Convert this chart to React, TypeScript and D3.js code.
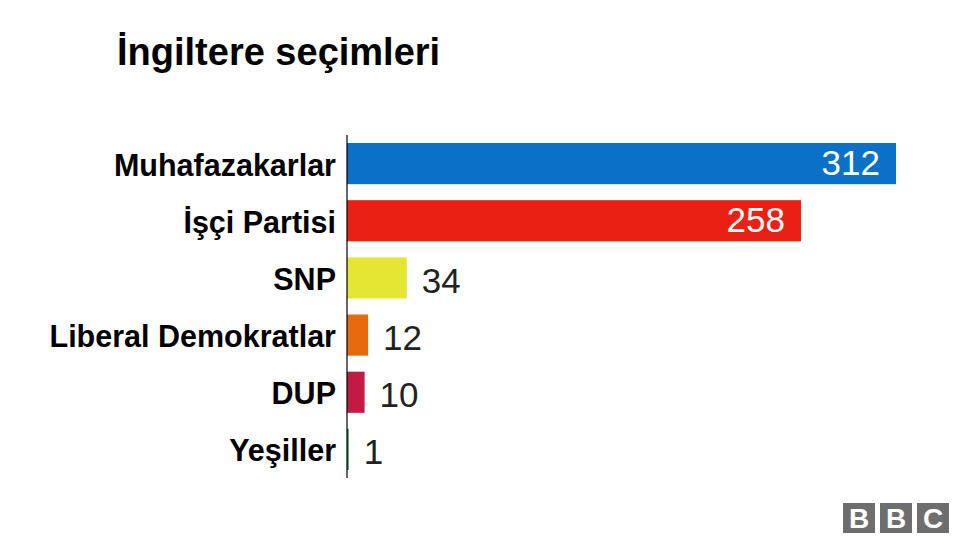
import React, { useEffect, useRef } from 'react';
import * as d3 from 'd3';

const parties = ['Muhafazakarlar', 'İşçi Partisi', 'SNP', 'Liberal Demokratlar', 'DUP', 'Yeşiller'];
const seats = [312, 258, 34, 12, 10, 1];
const colors = ['#0b71c8', '#ea2014', '#e4e634', '#e76b0c', '#c21a44', '#2f8a5c'];
const title = 'İngiltere seçimleri';

const FONT = '"Liberation Sans", Arial, Helvetica, sans-serif';

export default function App() {
  const ref = useRef<SVGSVGElement>(null);

  useEffect(() => {
    document.body.style.margin = '0';
    if (!ref.current) return;
    const svg = d3.select(ref.current);
    svg.selectAll('*').remove();

    const width = 976;
    const height = 549;

    svg.append('rect').attr('width', width).attr('height', height).attr('fill', '#fff');

    // Title
    svg.append('text')
      .attr('x', 117)
      .attr('y', 65)
      .attr('font-family', FONT)
      .attr('font-weight', 'bold')
      .attr('font-size', 38)
      .attr('fill', '#000')
      .text(title);

    const data = parties.map((p, i) => ({ party: p, seats: seats[i], color: colors[i] }));

    const x = d3.scaleLinear()
      .domain([0, d3.max(seats)!])
      .range([347, 896]);

    const y = d3.scaleBand()
      .domain(parties)
      .range([135, 478])
      .paddingInner(0.28)
      .paddingOuter(0.14);

    // Bars
    svg.selectAll('.bar')
      .data(data)
      .join('rect')
      .attr('class', 'bar')
      .attr('x', x(0))
      .attr('y', d => y(d.party)!)
      .attr('width', d => Math.max(1.5, x(d.seats) - x(0)))
      .attr('height', y.bandwidth())
      .attr('fill', d => d.color);

    // Axis line
    svg.append('line')
      .attr('x1', x(0)).attr('x2', x(0))
      .attr('y1', y.range()[0]).attr('y2', y.range()[1])
      .attr('stroke', '#000')
      .attr('stroke-width', 1.2);

    // Category labels
    svg.selectAll('.cat')
      .data(data)
      .join('text')
      .attr('class', 'cat')
      .attr('x', 336)
      .attr('y', d => y(d.party)! + y.bandwidth() / 2 + 12)
      .attr('text-anchor', 'end')
      .attr('font-family', FONT)
      .attr('font-weight', 'bold')
      .attr('font-size', 30.5)
      .attr('fill', '#000')
      .text(d => d.party);

    // Value labels: inside for the long bars, outside for the short ones
    const inside = (d: { seats: number }) => x(d.seats) - x(0) > 150;
    svg.selectAll('.val')
      .data(data)
      .join('text')
      .attr('class', 'val')
      .attr('x', d => inside(d) ? x(d.seats) - 16 : x(d.seats) + 15)
      .attr('y', d => y(d.party)! + y.bandwidth() / 2 + (inside(d) ? 11 : 15))
      .attr('text-anchor', d => inside(d) ? 'end' : 'start')
      .attr('font-family', FONT)
      .attr('font-size', 35)
      .attr('fill', d => inside(d) ? '#fff' : '#222')
      .text(d => d.seats);

    // BBC logo
    const logo = svg.append('g').attr('transform', 'translate(843,503)');
    ['B', 'B', 'C'].forEach((ch, i) => {
      logo.append('rect')
        .attr('x', i * 37)
        .attr('y', 0)
        .attr('width', 32)
        .attr('height', 30)
        .attr('fill', '#6e6e6e');
      logo.append('text')
        .attr('x', i * 37 + 16)
        .attr('y', 25)
        .attr('text-anchor', 'middle')
        .attr('font-family', FONT)
        .attr('font-weight', 'bold')
        .attr('font-size', 28)
        .attr('fill', '#fff')
        .text(ch);
    });
  }, []);

  return <svg ref={ref} width={976} height={549} style={{ display: 'block' }} />;
}
